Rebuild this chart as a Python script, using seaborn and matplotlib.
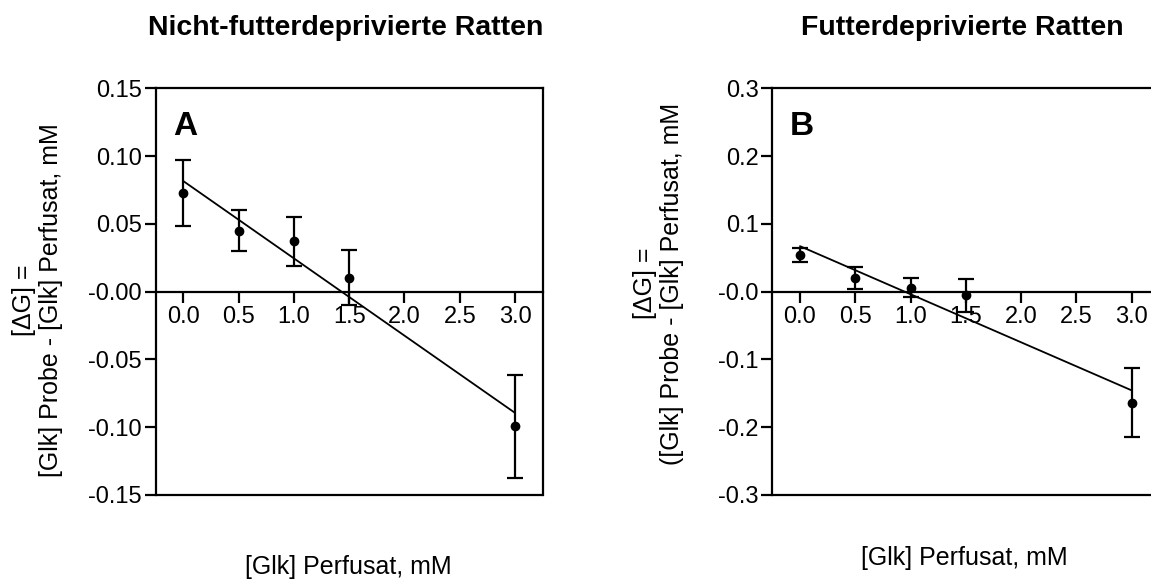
import numpy as np
import pandas as pd
import matplotlib
matplotlib.use('Agg')
import matplotlib.pyplot as plt
import seaborn as sns

# Daten
glk_perfusat = [0.0, 0.5, 1.0, 1.5, 3.0]

# A: nicht-futterdeprivierte Ratten
dg_a = [0.0727, 0.0450, 0.0372, 0.0101, -0.0994]
sem_a = [0.0242, 0.0150, 0.0180, 0.0203, 0.0380]

# B: futterdeprivierte Ratten
dg_b = [0.0540, 0.0196, 0.0054, -0.0054, -0.1637]
sem_b = [0.0100, 0.0160, 0.0140, 0.0245, 0.0512]

xticks = [0.0, 0.5, 1.0, 1.5, 2.0, 2.5, 3.0]
xticklabels = ['0.0', '0.5', '1.0', '1.5', '2.0', '2.5', '3.0']
yticks_a = [0.15, 0.10, 0.05, 0.0, -0.05, -0.10, -0.15]
yticklabels_a = ['0.15', '0.10', '0.05', '-0.00', '-0.05', '-0.10', '-0.15']
yticks_b = [0.3, 0.2, 0.1, 0.0, -0.1, -0.2, -0.3]
yticklabels_b = ['0.3', '0.2', '0.1', '-0.0', '-0.1', '-0.2', '-0.3']

sns.set_style('ticks')
plt.rcParams['font.family'] = ['Liberation Sans', 'DejaVu Sans']
plt.rcParams['text.color'] = 'black'
plt.rcParams['axes.labelcolor'] = 'black'

fig = plt.figure(figsize=(11.51, 5.8), dpi=100)
ax_a = fig.add_axes([0.1353, 0.1466, 0.3362, 0.7012])
ax_b = fig.add_axes([0.6710, 0.1466, 0.3362, 0.7012])

panels = [
    (ax_a, dg_a, sem_a, yticks_a, yticklabels_a, 'A',
     'Nicht-futterdeprivierte Ratten',
     '[\u0394G] =\n[Glk] Probe - [Glk] Perfusat, mM', (-0.305, 0.479), (0.497, -0.177)),
    (ax_b, dg_b, sem_b, yticks_b, yticklabels_b, 'B',
     'Futterdeprivierte Ratten',
     '[\u0394G] =\n([Glk] Probe - [Glk] Perfusat, mM', (-0.295, 0.52), (0.495, -0.155)),
]

for ax, dg, sem, yt, ytl, letter, title, ylab, ylab_pos, xlab_pos in panels:
    df = pd.DataFrame({'x': glk_perfusat, 'dg': dg})
    # Regressionsgerade durch die Mittelwerte
    sns.regplot(data=df, x='x', y='dg', ci=None, scatter=False, truncate=True,
                line_kws=dict(color='black', lw=1.3), ax=ax)
    ax.errorbar(glk_perfusat, dg, yerr=sem, fmt='o', color='black', ms=6,
                capsize=6, elinewidth=1.6, capthick=1.6, zorder=3)

    ax.set_xlim(-0.25, 3.25)
    ax.set_ylim(yt[-1], yt[0])

    # x-Achse liegt bei y = 0
    ax.spines['bottom'].set_position(('data', 0))
    for s in ax.spines.values():
        s.set_linewidth(1.6)
        s.set_color('black')
    ax.axhline(yt[-1], color='black', lw=1.6, clip_on=False)

    ax.set_xticks(xticks)
    ax.set_xticklabels(xticklabels)
    ax.set_yticks(yt)
    ax.set_yticklabels(ytl)
    ax.tick_params(axis='both', direction='out', length=8, width=1.6,
                   labelsize=17, colors='black', pad=2)

    ax.set_xlabel('[Glk] Perfusat, mM', fontsize=18)
    ax.xaxis.set_label_coords(*xlab_pos)
    ax.xaxis.label.set_va('center')
    ax.set_ylabel(ylab, fontsize=18, multialignment='center', linespacing=1.15)
    ax.yaxis.set_label_coords(*ylab_pos)
    ax.yaxis.label.set_va('center')

    ax.text(0.045, 0.885, letter, transform=ax.transAxes, fontsize=24,
            fontweight='bold', va='baseline', ha='left', color='black')
    ax.text(0.49, 1.131, title, transform=ax.transAxes, fontsize=20.5,
            fontweight='bold', ha='center', va='baseline', color='black')

fig.savefig('out.png', dpi=100)
